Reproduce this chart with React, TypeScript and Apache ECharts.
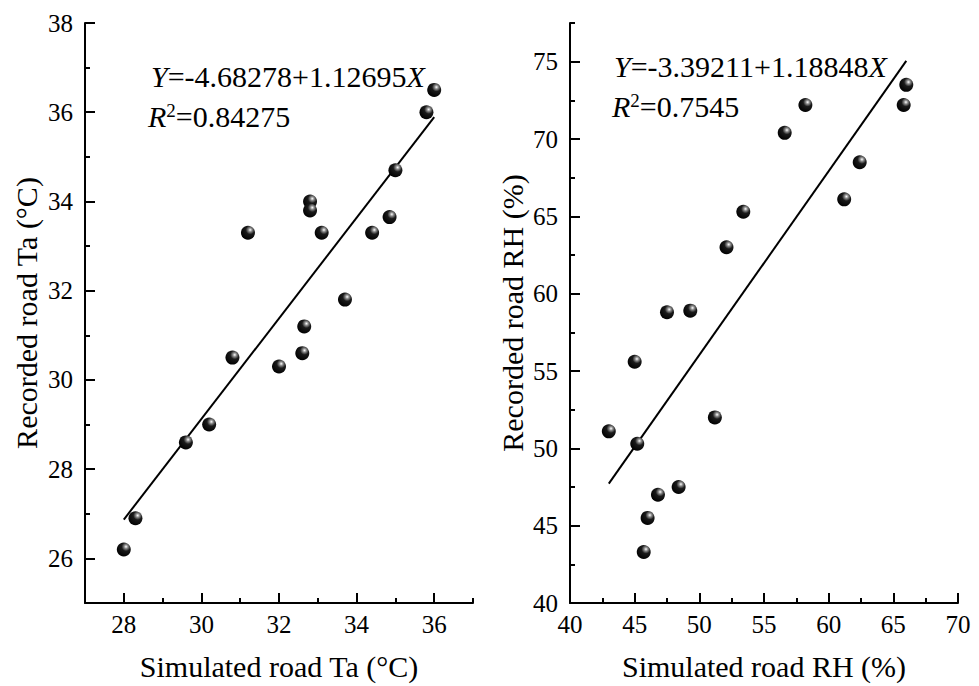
import React, { useEffect, useRef } from "react";
import * as echarts from "echarts";

// ---- Data: left panel (air temperature) ----
const taSimulated = [36.0, 35.8, 35.0, 34.85, 34.4, 33.1, 32.8, 32.8, 31.2, 33.7, 32.65, 32.6, 32.0, 30.8, 30.2, 29.6, 28.3, 28.0];
const taRecorded = [36.5, 36.0, 34.7, 33.65, 33.3, 33.3, 34.0, 33.8, 33.3, 31.8, 31.2, 30.6, 30.3, 30.5, 29.0, 28.6, 26.9, 26.2];
const taFitX = [28, 36];
const taFitY = [26.87, 35.89];
const taXMajor = [28, 30, 32, 34, 36];
const taXMinor = [27, 29, 31, 33, 35, 37];
const taYMajor = [26, 28, 30, 32, 34, 36, 38];
const taYMinor = [25, 27, 29, 31, 33, 35, 37];

// ---- Data: right panel (relative humidity) ----
const rhSimulated = [66.0, 65.8, 58.2, 56.6, 62.4, 61.2, 53.4, 52.1, 47.5, 49.3, 45.0, 43.0, 45.2, 51.2, 48.4, 46.8, 46.0, 45.7];
const rhRecorded = [73.5, 72.2, 72.2, 70.4, 68.5, 66.1, 65.3, 63.0, 58.8, 58.9, 55.6, 51.1, 50.3, 52.0, 47.5, 47.0, 45.5, 43.3];
const rhFitX = [43, 66];
const rhFitY = [47.72, 75.05];
const rhXMajor = [40, 45, 50, 55, 60, 65, 70];
const rhXMinor = [42.5, 47.5, 52.5, 57.5, 62.5, 67.5];
const rhYMajor = [40, 45, 50, 55, 60, 65, 70, 75];
const rhYMinor = [42.5, 47.5, 52.5, 57.5, 62.5, 67.5, 72.5, 77.5];

const FONT = "'Liberation Serif', 'Times New Roman', serif";

export default function App() {
  const ref = useRef<HTMLDivElement>(null);

  useEffect(() => {
    if (!ref.current) return;
    const chart = echarts.init(ref.current, undefined, { renderer: "svg" });

    const sphere = {
      type: "radial",
      x: 0.66,
      y: 0.3,
      r: 0.75,
      colorStops: [
        { offset: 0, color: "#ffffff" },
        { offset: 0.18, color: "#8a8a8a" },
        { offset: 0.42, color: "#1a1a1a" },
        { offset: 1, color: "#000000" },
      ],
    };

    const axisLine = { show: true, lineStyle: { color: "#000", width: 2 } };
    const labelStyle = { color: "#000", fontFamily: FONT, fontSize: 25 };
    const nameStyle = { color: "#000", fontFamily: FONT, fontSize: 30 };

    const mainX = (grid: number, min: number, max: number, major: number[], name: string) => ({
      type: "value",
      gridIndex: grid,
      min,
      max,
      position: "bottom",
      name,
      nameLocation: "middle",
      nameGap: 48,
      nameTextStyle: nameStyle,
      axisLine,
      splitLine: { show: false },
      axisTick: { show: true, inside: true, length: 10, customValues: major, lineStyle: { color: "#000", width: 2 } },
      axisLabel: { show: true, margin: 9, customValues: major, ...labelStyle },
    });
    const minorX = (grid: number, min: number, max: number, minor: number[]) => ({
      type: "value",
      gridIndex: grid,
      min,
      max,
      position: "bottom",
      axisLine: { show: false },
      splitLine: { show: false },
      axisTick: { show: true, inside: true, length: 5, customValues: minor, lineStyle: { color: "#000", width: 2 } },
      axisLabel: { show: false },
    });
    const mainY = (grid: number, min: number, max: number, major: number[], name: string, gap: number) => ({
      type: "value",
      gridIndex: grid,
      min,
      max,
      position: "left",
      name,
      nameLocation: "middle",
      nameGap: gap,
      nameTextStyle: nameStyle,
      axisLine,
      splitLine: { show: false },
      axisTick: { show: true, inside: true, length: 10, customValues: major, lineStyle: { color: "#000", width: 2 } },
      axisLabel: { show: true, margin: 12, customValues: major, ...labelStyle },
    });
    const minorY = (grid: number, min: number, max: number, minor: number[]) => ({
      type: "value",
      gridIndex: grid,
      min,
      max,
      position: "left",
      axisLine: { show: false },
      splitLine: { show: false },
      axisTick: { show: true, inside: true, length: 5, customValues: minor, lineStyle: { color: "#000", width: 2 } },
      axisLabel: { show: false },
    });

    const eqRich = {
      i: { fontFamily: FONT, fontSize: 30, fontStyle: "italic", color: "#000" },
      n: { fontFamily: FONT, fontSize: 30, color: "#000" },
      s: { fontFamily: FONT, fontSize: 19, color: "#000", verticalAlign: "top", lineHeight: 30 },
    };
    const eqText = (x: number, y: number, text: string) => ({
      type: "text",
      x,
      y,
      style: { text, rich: eqRich, verticalAlign: "middle", align: "left", fontFamily: FONT, fontSize: 30 },
    });

    chart.setOption({
      animation: false,
      backgroundColor: "#fff",
      grid: [
        { left: 85, top: 23, width: 388, height: 582 },
        { left: 570, top: 23, width: 388, height: 582 },
      ],
      xAxis: [
        mainX(0, 27, 37, taXMajor, "Simulated road Ta (\u00B0C)"),
        minorX(0, 27, 37, taXMinor),
        mainX(1, 40, 70, rhXMajor, "Simulated road RH (%)"),
        minorX(1, 40, 70, rhXMinor),
      ],
      yAxis: [
        mainY(0, 25, 38, taYMajor, "Recorded road Ta (\u00B0C)", 44),
        minorY(0, 25, 38, taYMinor),
        mainY(1, 40, 77.5, rhYMajor, "Recorded road RH (%)", 43),
        minorY(1, 40, 77.5, rhYMinor),
      ],
      series: [
        {
          type: "line",
          xAxisIndex: 0,
          yAxisIndex: 0,
          data: taFitX.map((x, i) => [x, taFitY[i]]),
          symbol: "none",
          lineStyle: { color: "#000", width: 2 },
          z: 2,
        },
        {
          type: "scatter",
          xAxisIndex: 0,
          yAxisIndex: 0,
          data: taSimulated.map((x, i) => [x, taRecorded[i]]),
          symbol: "circle",
          symbolSize: 14,
          itemStyle: { color: sphere, opacity: 1 },
          z: 3,
        },
        {
          type: "line",
          xAxisIndex: 2,
          yAxisIndex: 2,
          data: rhFitX.map((x, i) => [x, rhFitY[i]]),
          symbol: "none",
          lineStyle: { color: "#000", width: 2 },
          z: 2,
        },
        {
          type: "scatter",
          xAxisIndex: 2,
          yAxisIndex: 2,
          data: rhSimulated.map((x, i) => [x, rhRecorded[i]]),
          symbol: "circle",
          symbolSize: 14,
          itemStyle: { color: sphere, opacity: 1 },
          z: 3,
        },
      ],
      graphic: [
        eqText(151, 76, "{i|Y}{n|=-4.68278+1.12695}{i|X}"),
        eqText(148, 116, "{i|R}{s|2}{n|=0.84275}"),
        eqText(614, 66, "{i|Y}{n|=-3.39211+1.18848}{i|X}"),
        eqText(612, 106, "{i|R}{s|2}{n|=0.7545}"),
      ],
    });

    return () => chart.dispose();
  }, []);

  return (
    <div
      ref={ref}
      style={{ position: "absolute", left: 0, top: 0, width: 979, height: 686, background: "#fff" }}
    />
  );
}
